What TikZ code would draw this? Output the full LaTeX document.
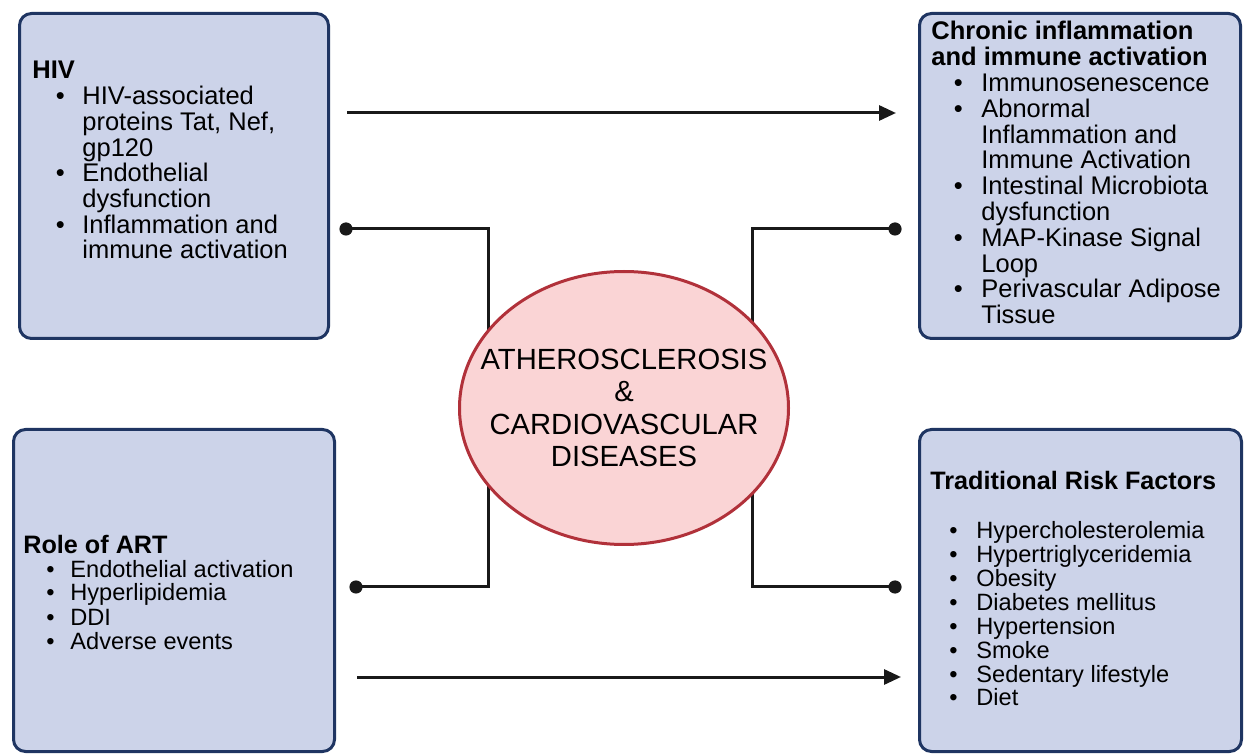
\documentclass[tikz,border=0pt]{standalone}
\usepackage{fontspec}
\setmainfont{Liberation Sans}
\usetikzlibrary{arrows.meta,shapes.geometric,fit}
\definecolor{boxfill}{HTML}{CCD3E9}
\definecolor{boxline}{HTML}{1F3562}
\definecolor{ellfill}{HTML}{FAD4D5}
\definecolor{ellline}{HTML}{B1313A}
\newlength\bcen
\newlength\tind
\newcommand\itm[1]{\par\hangindent=\tind\hangafter=1\noindent\hbox to\tind{\hskip\bcen\makebox[0pt]{\textbullet}\hfil}#1}
\tikzset{
  box/.style={draw=boxline, line width=1.5pt, fill=boxfill, rounded corners=6pt, inner sep=0pt},
  conn/.style={line width=1.5pt, draw=black!90},
  arr/.style={conn, -{Triangle[length=8.5pt,width=7.5pt]}},
  dotend/.style={fill=black!90},
  txt/.style={anchor=base west, inner sep=0pt},
}
\begin{document}
\begin{tikzpicture}[x=0.5pt,y=-0.5pt]
\useasboundingbox (0,0) rectangle (1244,754);
% boxes
\node[box, fit={(19.5,13.5) (328.5,338.5)}] (hiv) {};
\node[box, fit={(919.5,13.5) (1240.5,338.5)}] (chr) {};
\node[box, fit={(13.5,429.5) (334.5,751.5)}] (art) {};
\node[box, fit={(919.5,429.5) (1241.5,751.5)}] (trf) {};
% connector points
\coordinate (a1s) at (347,113);
\coordinate (a1e) at (896,113);
\coordinate (a2s) at (357,677);
\coordinate (a2e) at (901,677);
\coordinate (d1) at (346,229);
\coordinate (d2) at (895,229);
\coordinate (d3) at (356,587);
\coordinate (d4) at (895,587);
\coordinate (jl) at (488,587);
\coordinate (jr) at (752,587);
% connectors
\draw[arr] (a1s) -- (a1e);
\draw[arr] (a2s) -- (a2e);
\draw[conn] (d1) -| (jl) -- (d3);
\draw[conn] (d2) -| (jr) -- (d4);
\fill[dotend] (d1) circle[radius=3.3pt];
\fill[dotend] (d2) circle[radius=3.3pt];
\fill[dotend] (d3) circle[radius=3.3pt];
\fill[dotend] (d4) circle[radius=3.3pt];
% center ellipse
\node[ellipse, draw=ellline, line width=1.5pt, fill=ellfill, minimum width=164.5pt, minimum height=136.5pt, inner sep=0pt] (ath) at (624,408) {};
\node[align=center, inner sep=0pt, font=\fontsize{14.6}{16.2}\selectfont] (athtxt) at (ath.center) {ATHEROSCLEROSIS\\\&\\CARDIOVASCULAR\\DISEASES};
% box texts
\node[txt] (hivtxt) at (32,79) {\parbox[t]{150pt}{\fontsize{12.75}{12.85}\selectfont\setlength\bcen{14pt}\setlength\tind{25pt}\rightskip=0pt plus 1fil
\noindent\textbf{HIV}
\itm{HIV-associated\newline proteins Tat, Nef,\newline gp120}
\itm{Endothelial\newline dysfunction}
\itm{Inflammation and\newline immune activation}}};
\node[txt] (chrtxt) at (931,40) {\parbox[t]{160pt}{\fontsize{12.75}{12.9}\selectfont\setlength\bcen{13.5pt}\setlength\tind{25pt}\rightskip=0pt plus 1fil
\noindent\textbf{Chronic inflammation\newline and immune activation}
\itm{Immunosenescence}
\itm{Abnormal\newline Inflammation and\newline Immune Activation}
\itm{Intestinal Microbiota\newline dysfunction}
\itm{MAP-Kinase Signal\newline Loop}
\itm{Perivascular Adipose\newline Tissue}}};
\node[txt] (arttxt) at (23,553) {\parbox[t]{155pt}{\fontsize{11.8}{12}\selectfont\setlength\bcen{13.5pt}\setlength\tind{23.5pt}\rightskip=0pt plus 1fil
\noindent{\fontsize{12.6}{12}\selectfont\textbf{Role of ART}}
\itm{Endothelial activation}
\itm{Hyperlipidemia}
\itm{DDI}
\itm{Adverse events}}};
\node[txt] (trftxt) at (930,490) {\parbox[t]{155pt}{\fontsize{11.8}{11.93}\selectfont\setlength\bcen{11.5pt}\setlength\tind{23pt}\rightskip=0pt plus 1fil
\noindent{\fontsize{12.6}{11.93}\selectfont\textbf{Traditional Risk Factors}}\par\vspace{12.5pt}
\itm{Hypercholesterolemia}
\itm{Hypertriglyceridemia}
\itm{Obesity}
\itm{Diabetes mellitus}
\itm{Hypertension}
\itm{Smoke}
\itm{Sedentary lifestyle}
\itm{Diet}}};
\end{tikzpicture}
\end{document}
